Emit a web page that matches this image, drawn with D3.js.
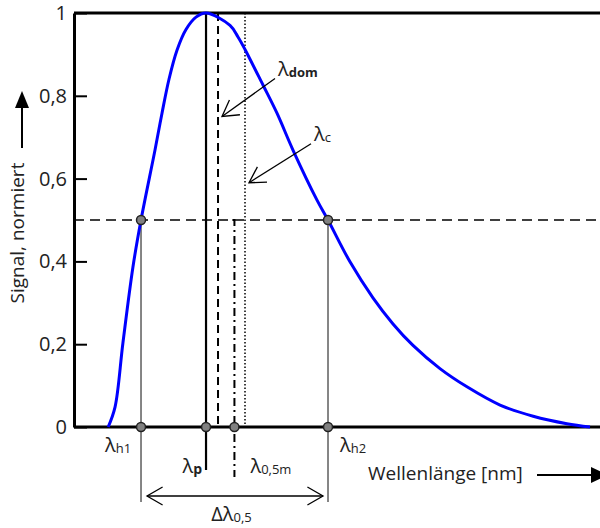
<!DOCTYPE html>
<html>
<head>
<meta charset="utf-8">
<script src="https://cdn.jsdelivr.net/npm/d3@7"></script>
<style>
  body { margin: 0; background: #fff; }
  svg { display: block; font-family: "Open Sans", sans-serif; }
</style>
</head>
<body>
<div id="chart"></div>
<script>
// spectrum, normalised signal over wavelength (arbitrary units, no ticks in the picture)
const waveX  = [6.5, 7.8, 9.3, 11.2, 12.74, 15.4, 16.73, 18.06, 19.58, 21.29, 23.19, 25.1, 29.66, 31.18, 32.51, 35.93, 38.59, 41.63, 46.2, 48.29, 52.47, 56.84, 60.65, 64.45, 69.58, 74.71, 81.0, 87.3, 93.7, 98.1];
const signal = [0, 0.048, 0.203, 0.386, 0.5, 0.669, 0.758, 0.84, 0.91, 0.96, 0.99, 1, 0.97, 0.942, 0.912, 0.826, 0.758, 0.669, 0.548, 0.5, 0.399, 0.312, 0.249, 0.197, 0.141, 0.097, 0.053, 0.026, 0.008, 0];

const yTicks = [0, 0.2, 0.4, 0.6, 0.8, 1];
const halfLevel = 0.5;

// characteristic wavelengths
const markerKeys = ['h1', 'p', 'dom', 'm', 'c', 'h2'];
const markerX    = [12.74, 25.1, 27.38, 30.5, 32.51, 48.29];

const W = 600, H = 528;
const margin = { left: 74, top: 13, bottom: 101 };

const svg = d3.select('#chart').append('svg')
  .attr('width', W).attr('height', H);

const x = d3.scaleLinear().domain([0, 100]).range([margin.left, 600]);
const y = d3.scaleLinear().domain([0, 1]).range([H - margin.bottom, margin.top]);

const mk = {};
markerKeys.forEach((k, i) => mk[k] = markerX[i]);

const de = d3.formatLocale({ decimal: ',', thousands: '.', grouping: [3], currency: ['', '€'] });

// open arrow head helper
function openHead(g, tx, ty, angle, len = 18, spread = 30) {
  const a1 = angle + spread * Math.PI / 180, a2 = angle - spread * Math.PI / 180;
  g.append('path')
    .attr('d', `M${tx + len * Math.cos(a1)},${ty + len * Math.sin(a1)}L${tx},${ty}L${tx + len * Math.cos(a2)},${ty + len * Math.sin(a2)}`)
    .attr('fill', 'none').attr('stroke', '#000').attr('stroke-width', 1.3);
}

function lambda(g, px, py, sub, opts = {}) {
  const t = g.append('text')
    .attr('x', px).attr('y', py)
    .attr('text-anchor', opts.anchor || 'start')
    .attr('fill', '#222')
    .style('font-size', '20px');
  if (opts.delta) t.append('tspan').text('Δ');
  t.append('tspan').text('λ');
  t.append('tspan').text(sub)
    .attr('dy', 1)
    .style('font-size', opts.subSize || '13px')
    .style('font-weight', opts.bold ? 'bold' : null);
  return t;
}

// 0.5 level dashed
svg.append('line')
  .attr('x1', x(0)).attr('x2', 600)
  .attr('y1', y(halfLevel)).attr('y2', y(halfLevel))
  .attr('stroke', '#000').attr('stroke-width', 1.3)
  .attr('stroke-dasharray', '10,6');

// half-width verticals
['h1', 'h2'].forEach(k => {
  svg.append('line')
    .attr('x1', x(mk[k])).attr('x2', x(mk[k]))
    .attr('y1', y(halfLevel)).attr('y2', y(0) + 75)
    .attr('stroke', '#444').attr('stroke-width', 1.3);
});

// peak
svg.append('line')
  .attr('x1', x(mk.p)).attr('x2', x(mk.p))
  .attr('y1', y(1)).attr('y2', y(0) + 43)
  .attr('stroke', '#000').attr('stroke-width', 2.2);

// dominant
svg.append('line')
  .attr('x1', x(mk.dom)).attr('x2', x(mk.dom))
  .attr('y1', y(1)).attr('y2', y(0))
  .attr('stroke', '#000').attr('stroke-width', 2)
  .attr('stroke-dasharray', '8,5');

// centre of half width, dash-dot
svg.append('path')
  .attr('d', `M${x(mk.m) - 2},${y(halfLevel)}H${x(mk.m)}V${y(0) + 50}`)
  .attr('fill', 'none')
  .attr('stroke', '#000').attr('stroke-width', 2)
  .attr('stroke-dasharray', '8,4,2,4');

// centroid, dotted
svg.append('line')
  .attr('x1', x(mk.c)).attr('x2', x(mk.c))
  .attr('y1', y(1)).attr('y2', y(0))
  .attr('stroke', '#000').attr('stroke-width', 1.5)
  .attr('stroke-dasharray', '1.5,2');

// frame: top line and x baseline
svg.append('line')
  .attr('x1', x(0)).attr('x2', 600).attr('y1', y(1)).attr('y2', y(1))
  .attr('stroke', '#000').attr('stroke-width', 3);
svg.append('line')
  .attr('x1', x(0)).attr('x2', 600).attr('y1', y(0)).attr('y2', y(0))
  .attr('stroke', '#000').attr('stroke-width', 3);

// y axis
const yAxis = svg.append('g')
  .attr('transform', `translate(${x(0)},0)`)
  .call(d3.axisLeft(y).tickValues(yTicks)
    .tickFormat(de.format('.1~f'))
    .tickSizeInner(-13).tickSizeOuter(0).tickPadding(7));
yAxis.select('.domain').attr('stroke-width', 3);
yAxis.selectAll('.tick line').attr('stroke-width', 2);
yAxis.selectAll('.tick text')
  .style('font-size', '20px')
  .style('font-family', '"Open Sans", sans-serif')
  .attr('fill', '#222');

// spectrum curve
const line = d3.line()
  .x((d, i) => x(waveX[i]))
  .y(d => y(d))
  .curve(d3.curveCatmullRom.alpha(0.5));
svg.append('path')
  .datum(signal)
  .attr('d', line)
  .attr('fill', 'none')
  .attr('stroke', '#0000ff')
  .attr('stroke-width', 3);

// marker dots
const dots = [[mk.h1, halfLevel], [mk.h2, halfLevel], [mk.h1, 0], [mk.p, 0], [mk.m, 0], [mk.h2, 0]];
svg.append('g').selectAll('circle')
  .data(dots).join('circle')
  .attr('cx', d => x(d[0])).attr('cy', d => y(d[1]))
  .attr('r', 4.5)
  .attr('fill', '#808080').attr('stroke', '#222').attr('stroke-width', 1.5);

// width arrow
const ay = y(0) + 69;
const wa = svg.append('g');
wa.append('line')
  .attr('x1', x(mk.h1) + 6).attr('x2', x(mk.h2) - 5)
  .attr('y1', ay).attr('y2', ay)
  .attr('stroke', '#000').attr('stroke-width', 1.3);
openHead(wa, x(mk.h1) + 6, ay, 0);
openHead(wa, x(mk.h2) - 5, ay, Math.PI);

// labels
const lab = svg.append('g');
lambda(lab, x(mk.h1) - 36, y(0) + 25, 'h1');
lambda(lab, x(mk.h2) + 12, y(0) + 25, 'h2');
lambda(lab, x(mk.p) - 4, y(0) + 46, 'p', { anchor: 'end', bold: true, subSize: '14px' });
lambda(lab, x(mk.m) + 16, y(0) + 46, '0,5m');
lambda(lab, (x(mk.h1) + x(mk.h2)) / 2 - 3, y(0) + 94, '0,5', { anchor: 'middle', delta: true });

// annotation arrows
const ann = svg.append('g');
[['dom', 0.75, 53, -38, true], ['c', 0.59, 62, -39, false]].forEach(([k, v, dx, dy, bold]) => {
  const tx = x(mk[k]) + 4, ty = y(v);
  ann.append('line')
    .attr('x1', tx).attr('y1', ty).attr('x2', tx + dx).attr('y2', ty + dy)
    .attr('stroke', '#000').attr('stroke-width', 1.3);
  openHead(ann, tx, ty, Math.atan2(dy, dx));
  lambda(ann, tx + dx + 3, ty + dy - 3, k, { bold });
});

// axis titles
svg.append('text')
  .attr('transform', `translate(24,${233}) rotate(-90)`)
  .attr('text-anchor', 'middle')
  .attr('fill', '#222')
  .style('font-size', '19px')
  .text('Signal, normiert');
svg.append('line')
  .attr('x1', 22).attr('x2', 22).attr('y1', 148).attr('y2', 106)
  .attr('stroke', '#000').attr('stroke-width', 2);
svg.append('path')
  .attr('d', 'M22,91L29,108L15,108Z').attr('fill', '#000');

svg.append('text')
  .attr('x', 368).attr('y', 480)
  .attr('fill', '#222')
  .style('font-size', '19px')
  .text('Wellenlänge [nm]');
svg.append('line')
  .attr('x1', 537).attr('x2', 595).attr('y1', 475).attr('y2', 475)
  .attr('stroke', '#000').attr('stroke-width', 2);
svg.append('path')
  .attr('d', 'M608,475L591,467L591,483Z').attr('fill', '#000');
</script>
</body>
</html>
